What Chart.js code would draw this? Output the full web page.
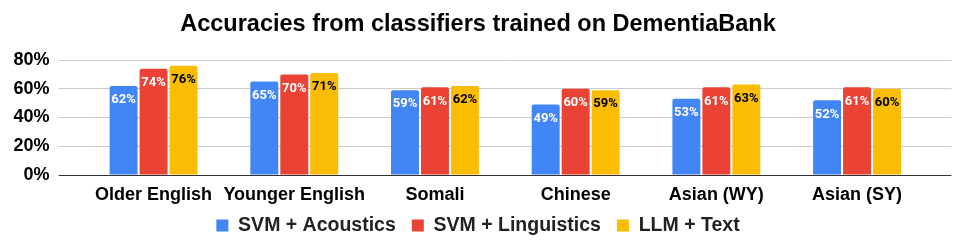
<!DOCTYPE html>
<html>
<head>
<meta charset="utf-8">
<script src="https://cdn.jsdelivr.net/npm/chart.js@4/dist/chart.umd.min.js"></script>
<style>
  html, body { margin: 0; padding: 0; background: #fff; }
  #wrap { width: 964px; height: 250px; position: relative; }
</style>
</head>
<body>
<div id="wrap"><canvas id="c" width="964" height="250"></canvas></div>
<script>
const categories = ["Older English", "Younger English", "Somali", "Chinese", "Asian (WY)", "Asian (SY)"];
const seriesNames = ["SVM + Acoustics", "SVM + Linguistics", "LLM + Text"];
const svmAcoustics = [62, 65, 59, 49, 53, 52];
const svmLinguistics = [74, 70, 61, 60, 61, 61];
const llmText = [76, 71, 62, 59, 63, 60];
const yTicks = [0, 20, 40, 60, 80];
const seriesColors = ["#4285F4", "#EA4335", "#FBBC04"];
const labelColors = ["#ffffff", "#ffffff", "#000000"];

const FAMILY = "'Liberation Sans', Arial, sans-serif";
const AXIS_FONT = { family: FAMILY, size: 18, weight: "bold" };

const barLabels = {
  id: "barLabels",
  afterDatasetsDraw(chart) {
    const ctx = chart.ctx;
    ctx.save();
    ctx.font = "bold 13px Roboto, 'Liberation Sans', sans-serif";
    ctx.textAlign = "center";
    ctx.textBaseline = "middle";
    chart.data.datasets.forEach((ds, di) => {
      const meta = chart.getDatasetMeta(di);
      meta.data.forEach((el, i) => {
        ctx.fillStyle = labelColors[di];
        ctx.fillText(ds.data[i] + "%", el.x, el.y + 14);
      });
    });
    ctx.restore();
  }
};

// pull the legend row a little closer to the axis labels
const legendNudge = {
  id: "legendNudge",
  afterLayout(chart) {
    const lg = chart.legend;
    if (lg) { lg.top -= 7.25; lg.bottom -= 7.25; }
  }
};

const gridColor = (c) => (c.tick && c.tick.value === 0) ? "#333333" : "#cccccc";

new Chart(document.getElementById("c"), {
  type: "bar",
  data: {
    labels: categories,
    datasets: [
      { label: seriesNames[0], data: svmAcoustics, backgroundColor: seriesColors[0] },
      { label: seriesNames[1], data: svmLinguistics, backgroundColor: seriesColors[1] },
      { label: seriesNames[2], data: llmText, backgroundColor: seriesColors[2] }
    ]
  },
  options: {
    responsive: false,
    animation: false,
    devicePixelRatio: 1,
    layout: { padding: { left: 4.6, right: 12.6, top: 0, bottom: 3 } },
    datasets: {
      bar: {
        categoryPercentage: 0.639,
        barPercentage: 0.933,
        borderRadius: { topLeft: 2, topRight: 2, bottomLeft: 0, bottomRight: 0 },
        borderSkipped: false
      }
    },
    scales: {
      x: {
        grid: { display: false, drawTicks: false },
        border: { display: true, color: "#333333", width: 1 },
        ticks: { font: AXIS_FONT, color: "#000000", padding: 9.7, maxRotation: 0, autoSkip: false },
        afterFit: (s) => { s.height = 32; }
      },
      y: {
        position: "left",
        min: 0, max: 80,
        afterBuildTicks: (s) => { s.ticks = yTicks.map(v => ({ value: v })); },
        grid: { color: gridColor, tickColor: gridColor, tickLength: 24.6, drawTicks: true },
        border: { display: false },
        ticks: { font: AXIS_FONT, color: "#000000", padding: 9, callback: (v) => v + "%" }
      },
      yRight: {
        position: "right",
        min: 0, max: 80,
        afterBuildTicks: (s) => { s.ticks = yTicks.map(v => ({ value: v })); },
        grid: { color: gridColor, tickColor: gridColor, tickLength: 24, drawTicks: true, drawOnChartArea: false },
        border: { display: false },
        ticks: { display: false }
      }
    },
    plugins: {
      title: {
        display: true,
        text: "Accuracies from classifiers trained on DementiaBank",
        color: "#000000",
        font: { family: FAMILY, size: 23.5, weight: "bold" },
        padding: { top: 10, bottom: 21.8 }
      },
      legend: {
        position: "bottom",
        maxHeight: 40,
        labels: {
          font: { family: FAMILY, size: 19.5, weight: "bold" },
          color: "#222222",
          boxWidth: 12,
          boxHeight: 12,
          padding: 16
        }
      },
      tooltip: { enabled: false }
    }
  },
  plugins: [barLabels, legendNudge]
});
</script>
</body>
</html>
